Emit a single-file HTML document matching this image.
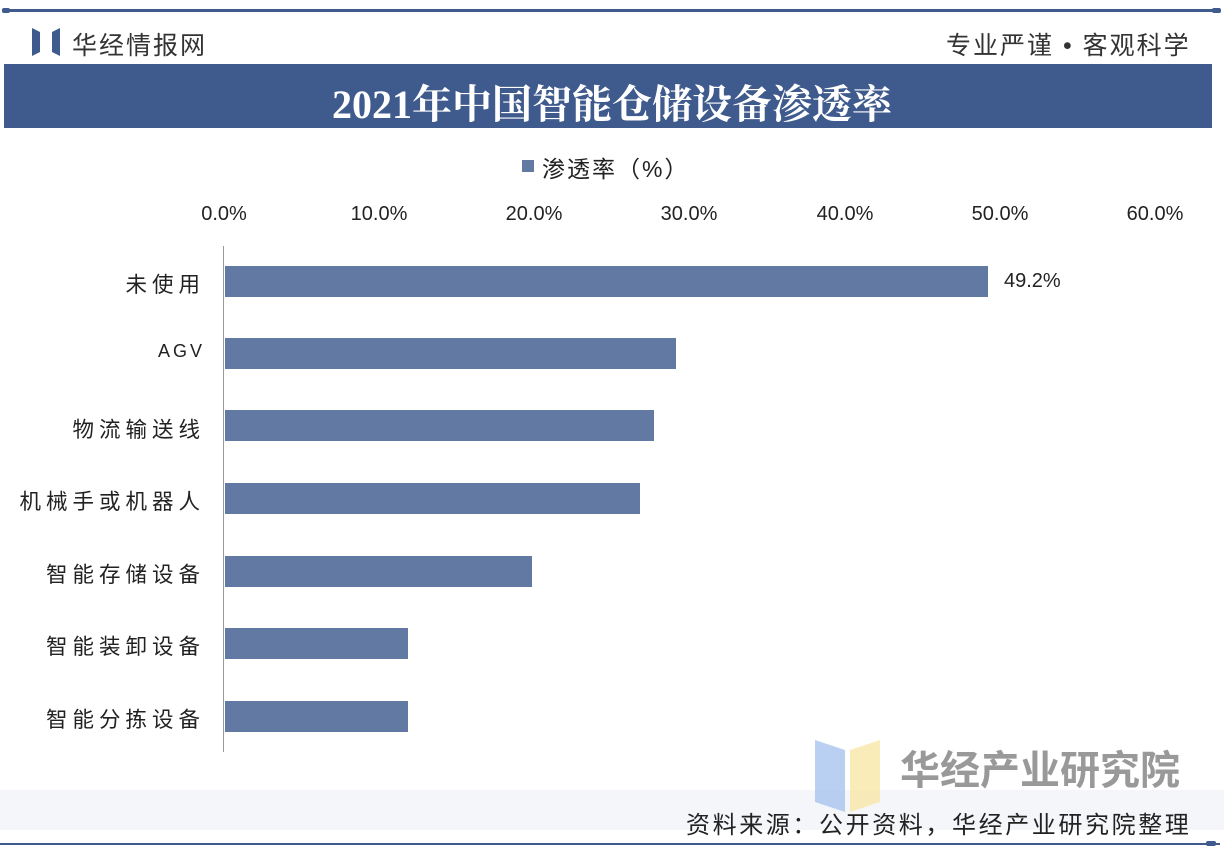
<!DOCTYPE html><html><head><meta charset="utf-8"><style>
body{margin:0;width:1224px;height:852px;background:#fff;position:relative;overflow:hidden;font-family:"Liberation Sans","Noto Sans CJK SC",sans-serif;color:#222}
.a{position:absolute}
.bar{position:absolute;left:225px;height:31px;background:#6279a3}
.lab{position:absolute;right:1019px;font-size:21.5px;text-align:right;white-space:nowrap;letter-spacing:5px}
.tk{position:absolute;top:203px;font-size:20px;width:100px;margin-left:-50px;text-align:center}
</style></head><body>
<div class="a" style="left:4px;top:9px;width:1216px;height:3px;background:#3f5a8c"></div>
<div class="a" style="left:2px;top:8px;width:8px;height:5px;background:#3f5a8c;border-radius:2px"></div>
<div class="a" style="left:1212px;top:8px;width:9px;height:5px;background:#3f5a8c;border-radius:2px"></div>
<svg class="a" style="left:32px;top:28px" width="28" height="28"><polygon points="0,0 8,4 8,24 0,28" fill="#3f5a8c"/><polygon points="28,0 20,4 20,24 28,28" fill="#3f5a8c"/></svg>
<div class="a" style="left:72px;top:26px;font-size:25px;color:#333;letter-spacing:2px">华经情报网</div>
<div class="a" style="left:946px;top:26px;font-size:25px;color:#333;letter-spacing:2px">专业严谨 • 客观科学</div>
<div class="a" style="left:4px;top:64px;width:1208px;height:64px;background:#3f5a8c"></div>
<div class="a" style="left:0;top:73px;width:1224px;text-align:center;font-size:40px;font-weight:bold;color:#fff;font-family:'Liberation Serif','Noto Serif CJK SC',serif">2021年中国智能仓储设备渗透率</div>
<div class="a" style="left:522px;top:160px;width:12px;height:12px;background:#6279a3"></div>
<div class="a" style="left:542px;top:150px;font-size:23px;letter-spacing:2px">渗透率（%）</div>
<div class="tk" style="left:224px">0.0%</div><div class="tk" style="left:379px">10.0%</div><div class="tk" style="left:534px">20.0%</div><div class="tk" style="left:689px">30.0%</div><div class="tk" style="left:845px">40.0%</div><div class="tk" style="left:1000px">50.0%</div><div class="tk" style="left:1155px">60.0%</div>
<div class="a" style="left:223px;top:246px;width:1px;height:506px;background:#999"></div>
<div class="bar" style="top:266px;width:763px"></div><div class="a" style="left:1004px;top:270px;font-size:20px">49.2%</div>
<div class="bar" style="top:338px;width:451px"></div>
<div class="bar" style="top:410px;width:429px"></div>
<div class="bar" style="top:483px;width:415px"></div>
<div class="bar" style="top:556px;width:307px"></div>
<div class="bar" style="top:628px;width:183px"></div>
<div class="bar" style="top:701px;width:183px"></div>
<div class="lab" style="top:268px">未使用</div>
<div class="lab" style="top:341px;font-size:18px;letter-spacing:3px">AGV</div>
<div class="lab" style="top:413px">物流输送线</div>
<div class="lab" style="top:485px">机械手或机器人</div>
<div class="lab" style="top:558px">智能存储设备</div>
<div class="lab" style="top:630px">智能装卸设备</div>
<div class="lab" style="top:703px">智能分拣设备</div>
<div class="a" style="left:0;top:790px;width:1224px;height:40px;background:#f4f6f9"></div>
<svg class="a" style="left:815px;top:740px" width="70" height="72"><polygon points="0,0 30,10 30,72 0,62" fill="#a9c4ef" opacity=".8"/><polygon points="65,0 35,10 35,72 65,62" fill="#f7e7a8" opacity=".8"/></svg>
<div class="a" style="left:900px;top:738px;font-size:40px;color:#999;font-weight:bold">华经产业研究院</div>
<div class="a" style="left:686px;top:805px;font-size:24px;color:#222;letter-spacing:2.6px">资料来源：公开资料，华经产业研究院整理</div>
<div class="a" style="left:0;top:843px;width:1220px;height:2px;background:#3f5a8c"></div>
<div class="a" style="left:1206px;top:841px;width:10px;height:5px;background:#3f5a8c;border-radius:2px"></div>
</body></html>
